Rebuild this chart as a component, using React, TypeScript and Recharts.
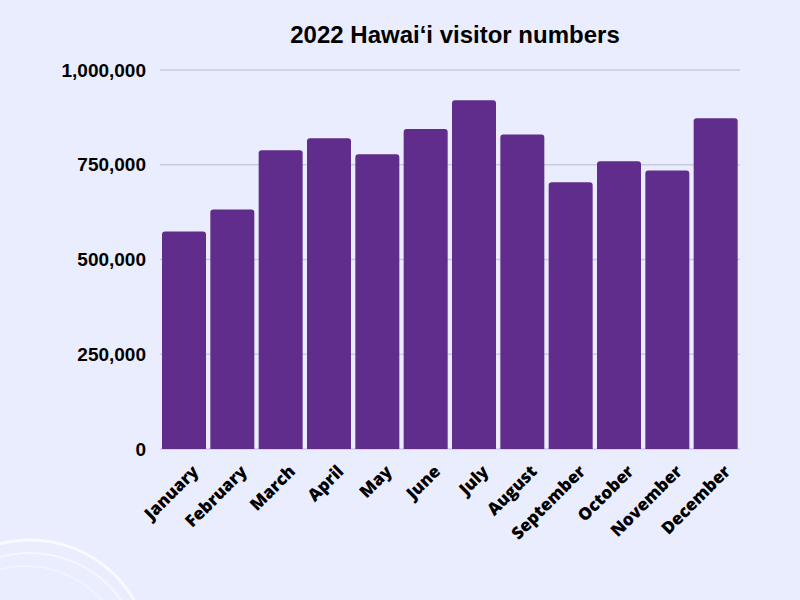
import { Bar, BarChart, CartesianGrid, XAxis, YAxis } from "recharts";

const months = ["January", "February", "March", "April", "May", "June", "July", "August", "September", "October", "November", "December"];
const visitors = [574000, 632000, 788000, 820000, 778000, 844000, 920000, 830000, 704000, 759000, 735000, 873000];
const yTicks = [0, 250000, 500000, 750000, 1000000];

const data = months.map((m, i) => ({ month: m, visitors: visitors[i] }));

function MonthTick({ x, y, payload }: any) {
  return <g transform={`translate(${x + 7},${y + 15})`}>
    <text textAnchor="end" transform="rotate(-45)" dy="0.71em" fill="#000" fontFamily="'Open Sans', sans-serif" fontWeight={800} fontSize={17}>{payload.value}</text>
  </g>;
}

export default function App() {
  return <div style={{ position: "absolute", left: 0, top: 0, width: 800, height: 600, background: "#eaedfd", overflow: "hidden" }}>
    <svg width={800} height={600} style={{ position: "absolute", left: 0, top: 0 }}>
      <circle cx={30} cy={660} r={120} fill="none" stroke="#fff" strokeWidth={3} opacity={0.7} />
      <circle cx={30} cy={665} r={112} fill="none" stroke="#fff" strokeWidth={2} opacity={0.5} />
      <circle cx={25} cy={670} r={104} fill="none" stroke="#fff" strokeWidth={1.5} opacity={0.4} />
    </svg>
    <div style={{ position: "absolute", left: 155, top: 21, width: 600, textAlign: "center", fontFamily: "'Liberation Sans', Arial, sans-serif", fontWeight: 700, fontSize: 24, color: "#000" }}>2022 Hawai‘i visitor numbers</div>
    <div style={{ position: "absolute", left: 0, top: 0 }}>
      <BarChart width={800} height={600} data={data} margin={{ top: 70, right: 60, left: 0, bottom: 41 }} barCategoryGap={2}>
        <CartesianGrid vertical={false} stroke="#c9cbe0" strokeWidth={1.5} />
        <XAxis dataKey="month" height={110} axisLine={false} tickLine={false} tickSize={0} tickMargin={0} interval={0} tick={<MonthTick />} />
        <YAxis width={160} domain={[0, 1000000]} ticks={yTicks} axisLine={false} tickLine={false} tickMargin={8}
          tickFormatter={(v: number) => v.toLocaleString("en-US")}
          tick={{ fill: "#000", fontSize: 19, fontWeight: 700, fontFamily: "'Liberation Sans', Arial, sans-serif" }} />
        <Bar dataKey="visitors" fill="#612d8c" radius={[3, 3, 0, 0]} isAnimationActive={false} />
      </BarChart>
    </div>
  </div>;
}
